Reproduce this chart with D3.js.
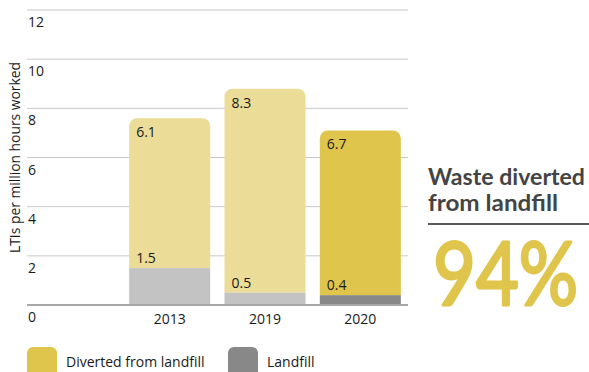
<!DOCTYPE html>
<html>
<head>
<meta charset="utf-8">
<script src="https://cdn.jsdelivr.net/npm/d3@7"></script>
<style>
  html, body { margin: 0; padding: 0; background: #fff; }
  svg { display: block; font-family: "Open Sans", sans-serif; }
</style>
</head>
<body>
<svg id="chart" width="589" height="372"></svg>
<script>
// Waste data: lost-time injury chart styled as stacked bars
const years = ["2013", "2019", "2020"];
const landfill = [1.5, 0.5, 0.4];
const diverted = [6.1, 8.3, 6.7];
const highlight = [false, false, true];
const yTicks = [0, 2, 4, 6, 8, 10, 12];
const legendLabels = ["Diverted from landfill", "Landfill"];
const headline = ["Waste diverted", "from landfill"];
const headlineValue = "94%";

const colors = {
  diverted: "#ebdc98",
  divertedHi: "#e0c54d",
  landfill: "#c3c3c3",
  landfillHi: "#888888",
  grid: "#c8c8c8",
  axis: "#a8a8a8",
  text: "#1a1a1a",
  title: "#444444"
};

const svg = d3.select("#chart");

const x = d3.scaleBand()
  .domain(years)
  .range([122, 408])
  .paddingInner(0.15)
  .paddingOuter(0.075);

const y = d3.scaleLinear().domain([0, 12]).range([305, 10]);

const gridLeft = 27, gridRight = 408;

// gridlines
svg.append("g").selectAll("line")
  .data(yTicks.filter(d => d > 0))
  .join("line")
  .attr("x1", gridLeft).attr("x2", gridRight)
  .attr("y1", d => y(d)).attr("y2", d => y(d))
  .attr("stroke", colors.grid).attr("stroke-width", 1);

// tick labels sit just below each line
svg.append("g").selectAll("text")
  .data(yTicks)
  .join("text")
  .attr("x", gridLeft + 1)
  .attr("y", d => y(d) + 17)
  .attr("font-size", 14)
  .attr("fill", colors.text)
  .text(d => d);

// y axis title
svg.append("text")
  .attr("transform", `translate(20, ${(y(0) + y(12)) / 2}) rotate(-90)`)
  .attr("text-anchor", "middle")
  .attr("font-size", 14)
  .attr("fill", colors.text)
  .attr("textLength", 191)
  .attr("lengthAdjust", "spacingAndGlyphs")
  .text("LTIs per million hours worked");

// stacked bars: landfill at bottom, diverted on top with rounded top corners
const r = 8;
function roundedTop(x0, w, yTop, yBottom, rad) {
  const p = d3.path();
  p.moveTo(x0, yBottom);
  p.lineTo(x0, yTop + rad);
  p.arcTo(x0, yTop, x0 + rad, yTop, rad);
  p.lineTo(x0 + w - rad, yTop);
  p.arcTo(x0 + w, yTop, x0 + w, yTop + rad, rad);
  p.lineTo(x0 + w, yBottom);
  p.closePath();
  return p.toString();
}

const rows = years.map((yr, i) => ({
  year: yr, landfill: landfill[i], diverted: diverted[i], hi: highlight[i]
}));

const bars = svg.append("g").selectAll("g").data(rows).join("g");

bars.append("path")
  .attr("d", d => roundedTop(x(d.year), x.bandwidth(), y(d.landfill + d.diverted), y(d.landfill), r))
  .attr("fill", d => d.hi ? colors.divertedHi : colors.diverted);

bars.append("rect")
  .attr("x", d => x(d.year))
  .attr("width", x.bandwidth())
  .attr("y", d => y(d.landfill))
  .attr("height", d => y(0) - y(d.landfill))
  .attr("fill", d => d.hi ? colors.landfillHi : colors.landfill);

bars.append("text")
  .attr("x", d => x(d.year) + 7)
  .attr("y", d => y(d.landfill + d.diverted) + 19)
  .attr("font-size", 14)
  .attr("fill", colors.text)
  .text(d => d3.format(".1f")(d.diverted));

bars.append("text")
  .attr("x", d => x(d.year) + 7)
  .attr("y", d => y(d.landfill) - 5)
  .attr("font-size", 14)
  .attr("fill", colors.text)
  .text(d => d3.format(".1f")(d.landfill));

// baseline
svg.append("line")
  .attr("x1", gridLeft).attr("x2", gridRight)
  .attr("y1", y(0)).attr("y2", y(0))
  .attr("stroke", colors.axis).attr("stroke-width", 2);

// x axis labels
svg.append("g")
  .attr("transform", `translate(0, ${y(0)})`)
  .call(d3.axisBottom(x).tickSize(0).tickPadding(9))
  .call(g => g.select(".domain").remove())
  .call(g => g.selectAll("text")
    .attr("font-size", 14)
    .attr("font-family", "Open Sans, sans-serif")
    .attr("fill", colors.text));

// legend
const legend = svg.append("g").attr("transform", "translate(27, 347)");
const legendX = [0, 201];
legendLabels.forEach((lab, i) => {
  const g = legend.append("g").attr("transform", `translate(${legendX[i]}, 0)`);
  g.append("rect")
    .attr("width", 30).attr("height", 30).attr("rx", 6)
    .attr("fill", i === 0 ? colors.divertedHi : colors.landfillHi);
  g.append("text")
    .attr("x", 39).attr("y", 20)
    .attr("font-size", 14)
    .attr("fill", colors.text)
    .text(lab);
});

// headline figure on the right
const side = svg.append("g");
side.selectAll("text.head")
  .data(headline)
  .join("text")
  .attr("class", "head")
  .attr("x", 428)
  .attr("y", (d, i) => 185 + i * 26)
  .attr("font-family", "Lato, sans-serif")
  .attr("font-weight", 700)
  .attr("font-size", 22)
  .attr("fill", colors.title)
  .attr("textLength", (d, i) => i === 0 ? 157 : 130)
  .attr("lengthAdjust", "spacingAndGlyphs")
  .text(d => d);

side.append("line")
  .attr("x1", 428).attr("x2", 589)
  .attr("y1", 224).attr("y2", 224)
  .attr("stroke", "#222").attr("stroke-width", 1.5);

// big percentage, stretched vertically to the tall display proportions
side.append("text")
  .attr("transform", "translate(433, 305) scale(1, 1.17)")
  .attr("font-family", "Lato, sans-serif")
  .attr("font-weight", 400)
  .attr("font-size", 74)
  .attr("fill", colors.divertedHi)
  .attr("stroke", colors.divertedHi)
  .attr("stroke-width", 2.4)
  .attr("stroke-linejoin", "round")
  .text(headlineValue);
</script>
</body>
</html>
